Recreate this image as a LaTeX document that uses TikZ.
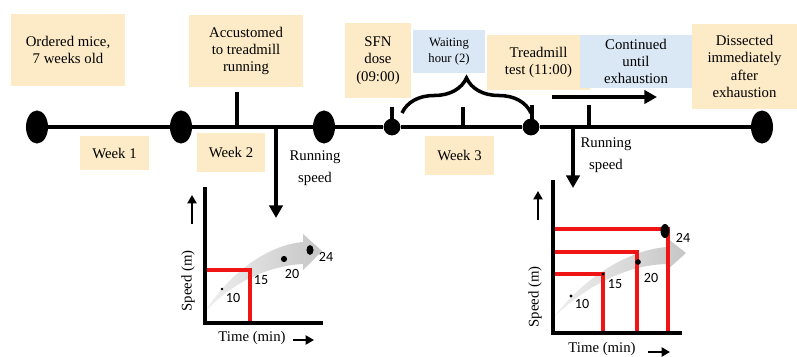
\documentclass[tikz,border=0pt]{standalone}
\usepackage{fontspec}
\setmainfont{Liberation Serif}
\newfontfamily\numfont{Carlito}
\usepackage{tikz}
\usetikzlibrary{arrows.meta}
\usetikzlibrary{positioning,decorations.pathreplacing}
\usetikzlibrary{shapes.geometric}
\definecolor{noteyellow}{HTML}{FCEBC6}
\definecolor{noteblue}{HTML}{DAE8F5}
\definecolor{stepred}{HTML}{F01414}
\tikzset{
    yellowbox/.style={
        fill=noteyellow,
        align=center,
        inner sep=1pt,
        font=\fontsize{10.5}{12.4}\selectfont
    },
    bluebox/.style={
        yellowbox,
        fill=noteblue
    },
    bigdot/.style={
        ellipse,
        fill=black,
        minimum width=0.55cm,
        minimum height=0.825cm,
        inner sep=0pt
    },
    smalldot/.style={
        circle,
        fill=black,
        minimum size=0.42cm,
        inner sep=0pt
    },
    timeline/.style={line width=3.5pt},
    tickline/.style={line width=2.5pt},
    pointer/.style={
        line width=2.6pt,
        -{Triangle[length=9pt, width=9.5pt]}
    },
    smallpointer/.style={
        line width=1.8pt,
        -{Triangle[length=6pt, width=6.5pt]}
    },
    axis/.style={line width=3pt},
    redstep/.style={stepred, line width=2.2pt},
    num/.style={font=\numfont\fontsize{10}{12}\selectfont, inner sep=1pt},
    axislabel/.style={font=\fontsize{10.5}{12}\selectfont, inner sep=1pt}
}

\begin{document}
\begin{tikzpicture}[x=0.025cm, y=-0.025cm]
  \useasboundingbox (0,0) rectangle (797,356);

  % Notes above the timeline
  \node[yellowbox, minimum width=2.85cm, minimum height=1.8cm] (ordered) at (68,50) {Ordered mice,\\7 weeks old};
  \node[yellowbox, minimum width=2.85cm, minimum height=1.8cm] (accustomed) at (246,51) {Accustomed\\to treadmill\\running};
  \node[yellowbox, minimum width=1.65cm, minimum height=1.875cm] (sfn) at (378,60.5) {SFN\\dose\\(09:00)};
  \node[bluebox, minimum width=1.8cm, minimum height=1.075cm, font=\fontsize{9}{11.5}\selectfont] (waiting) at (449,51.5) {Waiting\\hour (2)};
  \node[yellowbox, minimum width=2.575cm, minimum height=1.375cm] (treadmill) at (538.5,62.5) {Treadmill\\test (11:00)};
  \node[bluebox, minimum width=2.8cm, minimum height=1.325cm] (continued) at (636,61.5) {Continued\\until\\exhaustion};
  \node[yellowbox, minimum width=2.625cm, minimum height=2.125cm] (dissected) at (744.5,66.5) {Dissected\\immediately\\after\\exhaustion};

  % Week labels
  \node[yellowbox, minimum width=1.725cm, minimum height=0.85cm] (week1) at (114.5,153) {Week 1};
  \node[yellowbox, minimum width=1.7cm, minimum height=0.975cm] (week2) at (231,152.5) {Week 2};
  \node[yellowbox, minimum width=1.725cm, minimum height=0.975cm] (week3) at (459.5,155.5) {Week 3};

  % Timeline
  \node[bigdot] (e1) at (37,127) {};
  \node[bigdot] (e2) at (181,127) {};
  \node[bigdot] (e3) at (324,127) {};
  \node[smalldot] (s1) at (392,127) {};
  \node[smalldot] (s2) at (531,127) {};
  \node[bigdot] (e4) at (762,127) {};
  \draw[timeline] (e1.center) -- (e2) -- (e3) -- (s1) -- (s2) -- (e4);

  % Ticks on the timeline
  \coordinate (t1) at (237,92);
  \coordinate (t2) at (392,107);
  \coordinate (t3) at (463,107);
  \coordinate (t4) at (532,105);
  \coordinate (t5) at (589,105);
  \foreach \t in {t1,t2,t3,t4,t5}
    \draw[tickline] (\t) -- (\t |- e1);

  % Waiting period brace
  \coordinate (b1) at (402,113);
  \coordinate (b2) at (531,113);
  \draw[tickline, decorate, decoration={brace, amplitude=0.875cm}] (b1) -- (b2);

  % Running until exhaustion
  \coordinate (c1) at (552,97);
  \coordinate (c2) at (657,97);
  \draw[pointer, line width=2.2pt] (c1) -- (c2);

  % Running speed arrows
  \coordinate (r1) at (276,127);
  \coordinate (r1e) at (276,218);
  \coordinate (r2) at (573,127);
  \coordinate (r2e) at (573,188);
  \draw[pointer] (r1) -- (r1e);
  \draw[pointer] (r2) -- (r2e);
  \node[align=center, font=\fontsize{10.5}{16}\selectfont] (rs1) at (315,168) {Running\\speed};
  \node[align=center, font=\fontsize{10.5}{16}\selectfont] (rs2) at (606,155) {Running\\speed};

  % First speed chart
  \shade[left color=gray!12, right color=gray!45]
    (204,313) .. controls (230,272) and (268,245) .. (303,242) -- (303,234) -- (322,251)
    -- (303,270) -- (303,264) .. controls (268,266) and (232,282) .. (204,313) -- cycle;
  \coordinate (o1) at (205,323);
  \draw[redstep] (o1 |- 0,270) -| (250,323);
  \fill (222,289) circle (1pt);
  \fill (284,259) circle (2.2pt);
  \fill (310,250) ellipse (2.5pt and 3.5pt);
  \node[num] (n10a) at (233,298) {10};
  \node[num] (n15a) at (261,280) {15};
  \node[num] (n20a) at (292,274) {20};
  \node[num] (n24a) at (326,257) {24};
  \draw[axis] (205,187) -- (o1) -- (323,323);
  \coordinate (ua1) at (192,224);
  \coordinate (ua1e) at (192,195);
  \draw[smallpointer] (ua1) -- (ua1e);
  \node[axislabel, rotate=90] (ylab1) at (188,281) {Speed (m)};
  \node[axislabel] (xlab1) at (252,338) {Time (min)};
  \coordinate (ra1) at (293,340);
  \coordinate (ra1e) at (314,340);
  \draw[smallpointer] (ra1) -- (ra1e);

  % Second speed chart
  \shade[left color=gray!12, right color=gray!45]
    (553,318) .. controls (580,282) and (625,250) .. (667,247) -- (667,238) -- (686,253)
    -- (667,270) -- (667,264) .. controls (625,265) and (585,287) .. (553,318) -- cycle;
  \coordinate (o2) at (553,333);
  \draw[redstep] (o2 |- 0,274) -| (603,333);
  \draw[redstep] (o2 |- 0,252) -| (637,333);
  \draw[redstep] (o2 |- 0,229) -| (668,333);
  \fill (571,296) circle (1.2pt);
  \fill (603,274) circle (1.2pt);
  \fill (638,262) circle (2pt);
  \fill (665,231) ellipse (3.2pt and 5pt);
  \node[num] (n10b) at (582,304) {10};
  \node[num] (n15b) at (615,284) {15};
  \node[num] (n20b) at (651,278) {20};
  \node[num] (n24b) at (683,238) {24};
  \draw[axis] (553,180) -- (o2) -- (682,333);
  \coordinate (ua2) at (538,220);
  \coordinate (ua2e) at (538,191);
  \draw[smallpointer] (ua2) -- (ua2e);
  \node[axislabel, rotate=90] (ylab2) at (535,297) {Speed (m)};
  \node[axislabel] (xlab2) at (602,349) {Time (min)};
  \coordinate (ra2) at (648,352);
  \coordinate (ra2e) at (670,352);
  \draw[smallpointer] (ra2) -- (ra2e);
\end{tikzpicture}
\end{document}
